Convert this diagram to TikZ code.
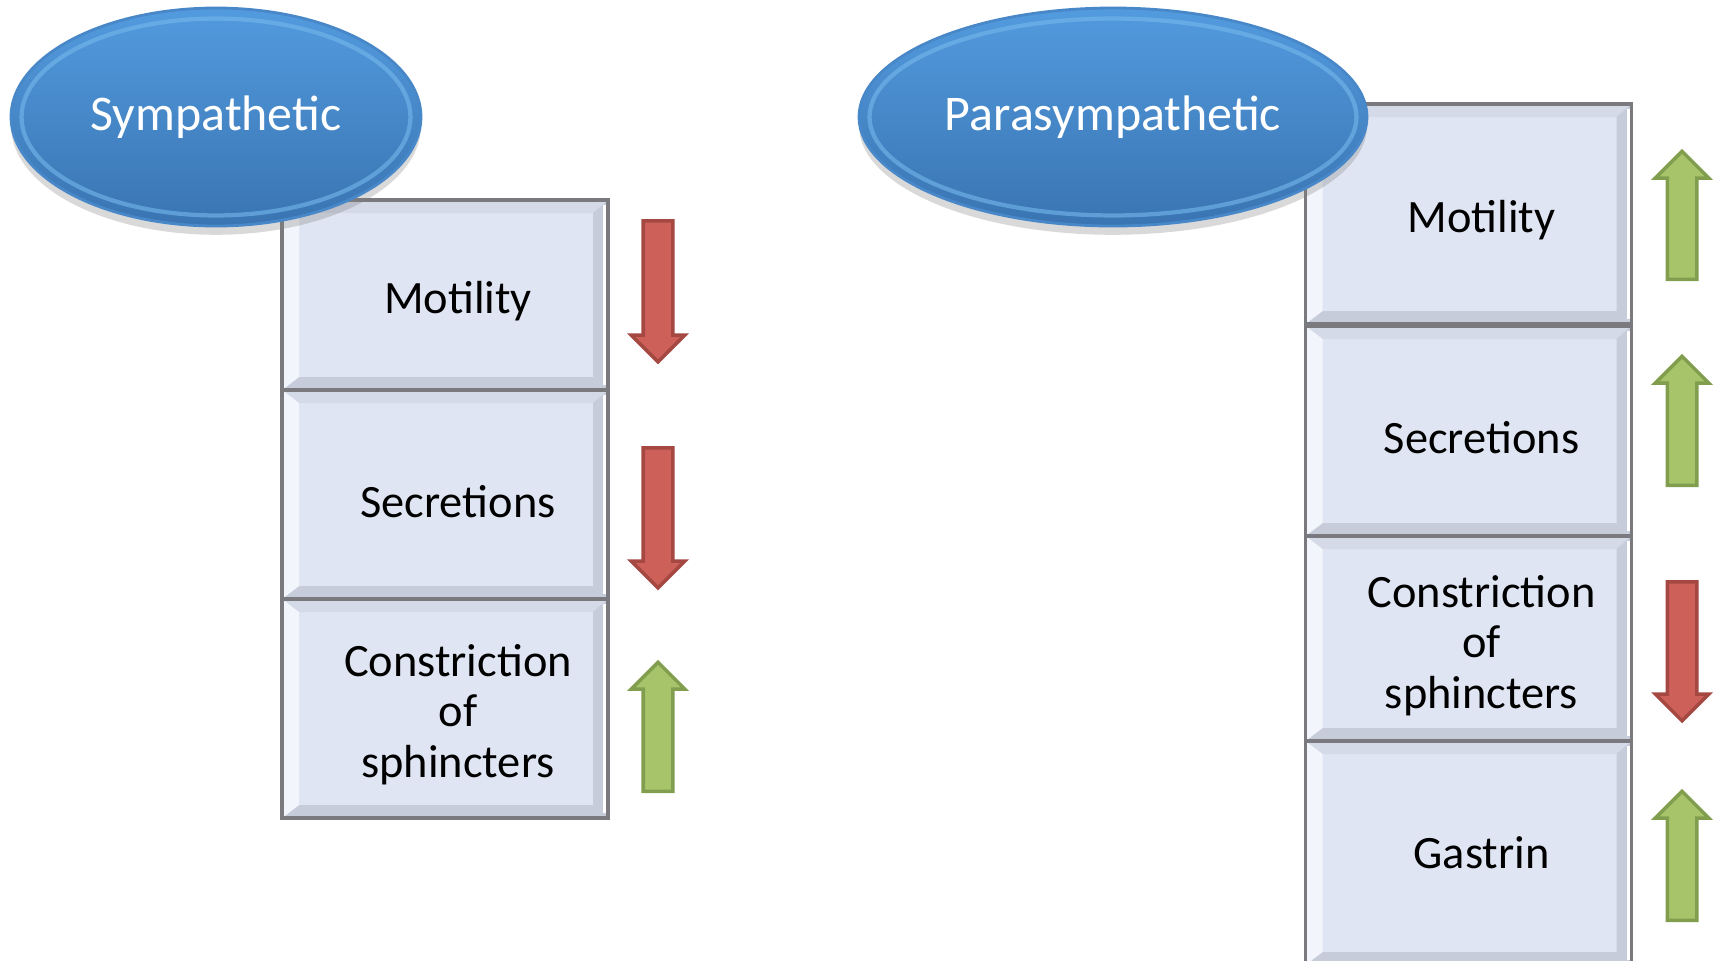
\documentclass[tikz,border=0pt]{standalone}
\usepackage{fontspec}
\setmainfont{Carlito}
\usepackage{tikz}
\usetikzlibrary{shapes.geometric,shapes.arrows,shadows,calc}
\definecolor{oval_top}{RGB}{82,155,222}
\definecolor{oval_bottom}{RGB}{58,116,178}
\definecolor{oval_edge}{RGB}{72,136,200}
\definecolor{oval_rim}{RGB}{118,184,236}
\definecolor{box_fill}{RGB}{223,229,242}
\definecolor{box_edge}{RGB}{122,122,126}
\definecolor{box_top}{RGB}{212,218,232}
\definecolor{box_side}{RGB}{198,204,218}
\definecolor{box_light}{RGB}{242,245,251}
\definecolor{down_red}{RGB}{205,97,90}
\definecolor{down_edge}{RGB}{165,72,66}
\definecolor{up_green}{RGB}{168,196,106}
\definecolor{up_edge}{RGB}{128,158,78}

\tikzset{
  oval/.style={ellipse, top color=oval_top, bottom color=oval_bottom, draw=oval_edge,
               line width=0.8pt, text=white, font=\fontsize{14.2}{17}\selectfont, inner sep=0pt,
               drop shadow={opacity=0.3, shadow xshift=0pt, shadow yshift=-2.5pt},
               path picture={
                 \path let \p1=(path picture bounding box.north east),
                           \p2=(path picture bounding box.south west) in
                   (path picture bounding box.center) coordinate (pc)
                   [draw=oval_rim, draw opacity=0.6, line width=1.2pt]
                   ellipse ({(\x1-\x2)/2-3pt} and {(\y1-\y2)/2-3pt});
               }},
  cell/.style={rectangle, draw=box_edge, fill=box_fill, line width=0.9pt, inner sep=0pt,
               minimum width=3.26cm,
               path picture={
                 \path (path picture bounding box.north west) coordinate (pnw)
                       (path picture bounding box.north east) coordinate (pne)
                       (path picture bounding box.south west) coordinate (psw)
                       (path picture bounding box.south east) coordinate (pse);
                 \fill[box_top] (pnw) -- (pne) -- ($(pne)+(-0.15,-0.13)$) -- ($(pnw)+(0.17,-0.13)$) -- cycle;
                 \fill[box_side] (pse) -- (psw) -- ($(psw)+(0.17,0.13)$) -- ($(pse)+(-0.15,0.13)$) -- cycle;
                 \fill[box_light] (pnw) -- ($(pnw)+(0.17,-0.13)$) -- ($(psw)+(0.17,0.13)$) -- (psw) -- cycle;
                 \fill[box_side] (pne) -- ($(pne)+(-0.15,-0.13)$) -- ($(pse)+(-0.15,0.13)$) -- (pse) -- cycle;
                 \fill[white] ($(pne)+(-0.05,-0.05)$) rectangle ($(pse)+(0,0.05)$);
               }},
  celltext/.style={font=\fontsize{13.2}{14.3}\selectfont, align=center, inner sep=0pt},
  decarrow/.style={single arrow, rotate=-90, anchor=tail, fill=down_red, draw=down_edge, line width=1pt,
                   inner xsep=0pt, inner ysep=0.13cm, single arrow head extend=0.12cm},
  incarrow/.style={single arrow, rotate=90, anchor=tail, fill=up_green, draw=up_edge, line width=1pt,
                   inner xsep=0pt, inner ysep=0.13cm, single arrow head extend=0.12cm}
}

\begin{document}
\begin{tikzpicture}

\useasboundingbox (0,0) rectangle (17.14,-9.6);

% boxes
\foreach \name/\x/\y/\h/\dy/\txt in {
  symmot/4.45/-2.95/1.90/-0.06/Motility,
  symsec/4.45/-4.945/2.09/-0.07/Secretions,
  symcon/4.45/-7.085/2.19/-0.06/{Constriction\\of\\sphincters},
  parmot/14.685/-2.14/2.20/-0.06/Motility,
  parsec/14.685/-4.31/2.10/-0.07/Secretions,
  parcon/14.685/-6.385/2.05/-0.07/{Constriction\\of\\sphincters},
  pargas/14.685/-8.53/2.24/0/Gastrin}
{
  \node[cell, minimum height=\h cm] (\name) at (\x,\y) {};
  \node[celltext] (\name-t) at ($(\name)+(0.13,\dy)$) {\txt};
}

% ovals
\node[oval, minimum width=4.10cm, minimum height=2.18cm] (sym) at (2.16,-1.17) {Sympathetic};
\node[oval, minimum width=5.08cm, minimum height=2.18cm] (para) at (11.13,-1.17) {Parasympathetic};

% arrows, placed by their tails
\foreach \name/\x/\y/\len/\dir in {
  symmot-a/6.58/-2.19/1.41/decarrow,
  symsec-a/6.58/-4.46/1.40/decarrow,
  symcon-a/6.58/-7.93/1.29/incarrow,
  parmot-a/16.82/-2.81/1.28/incarrow,
  parsec-a/16.82/-4.87/1.29/incarrow,
  parcon-a/16.82/-5.80/1.39/decarrow,
  pargas-a/16.82/-9.22/1.29/incarrow}
  \node[\dir, minimum height=\len cm] (\name) at (\x,\y) {};

\end{tikzpicture}
\end{document}
